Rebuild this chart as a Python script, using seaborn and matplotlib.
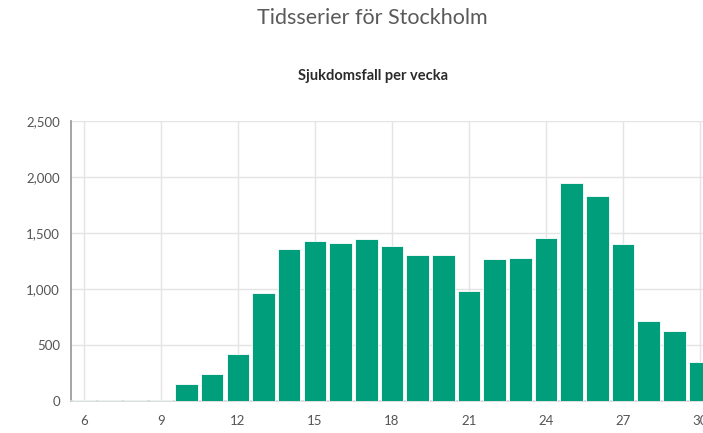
import numpy as np
import pandas as pd
import matplotlib
matplotlib.use("Agg")
import matplotlib.pyplot as plt
import seaborn as sns

# ================== DATA ==================
weeks = [6, 7, 8, 9, 10, 11, 12, 13, 14, 15, 16, 17, 18, 19, 20, 21, 22, 23,
         24, 25, 26, 27, 28, 29, 30]
cases = [12, 12, 12, 12, 152, 240, 420, 964, 1357, 1425, 1410, 1446, 1384, 1300,
         1300, 982, 1270, 1280, 1456, 1943, 1833, 1402, 714, 625, 348]
x_ticks = [6, 9, 12, 15, 18, 21, 24, 27, 30]
y_ticks = [0, 500, 1000, 1500, 2000, 2500]

df = pd.DataFrame({"Vecka": weeks, "Fall": cases})

# ================== PLOT ==================
sns.set_theme(style="white")
plt.rcParams['font.family'] = ['Lato', 'DejaVu Sans']

fig = plt.figure(figsize=(7.03, 4.33), dpi=100)
ax = fig.add_axes([0.101, 0.074, 0.899, 0.647])

sns.barplot(data=df, x="Vecka", y="Fall", native_scale=True, width=0.88,
            color="#009e7b", saturation=1, edgecolor="white", linewidth=0.6,
            ax=ax, zorder=3)

ax.set_xlim(5.5, 30.12)
ax.set_ylim(0, 2500)
ax.set_xticks(x_ticks)
ax.set_yticks(y_ticks)
ax.set_yticklabels([f"{v:,}" for v in y_ticks])
ax.set_xlabel("")
ax.set_ylabel("")

ax.grid(True, color="#e4e4e4", linewidth=1, zorder=0)
ax.set_axisbelow(True)
for side in ["top", "right"]:
    ax.spines[side].set_visible(False)
ax.spines["left"].set_color("#9a9a9a")
ax.spines["bottom"].set_color("#d8d8d8")
ax.tick_params(axis="both", length=4, width=0.8, color="#9a9a9a",
               labelsize=9.5, labelcolor="#555555", pad=6)
ax.tick_params(axis="y", pad=4)

fig.text(0.53, 0.958, "Tidsserier för Stockholm", ha="center", va="center",
         fontsize=15.5, color="#5a5a5a", fontweight="normal")
fig.text(0.53, 0.825, "Sjukdomsfall per vecka", ha="center", va="center",
         fontsize=10.5, color="#2b2b2b", fontweight="bold")

plt.savefig("out.png", dpi=100)
